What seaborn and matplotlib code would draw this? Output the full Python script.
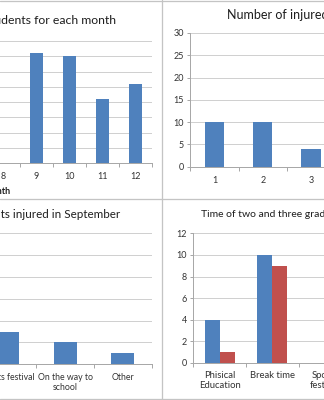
import matplotlib
matplotlib.use("Agg")
import matplotlib.pyplot as plt
from matplotlib.lines import Line2D
import numpy as np
import pandas as pd
import seaborn as sns

# ---- data ----
months = ["8", "9", "10", "11", "12"]
monthly_injured = [0, 36, 35, 21, 26]

grades = ["1", "2", "3"]
grade_injured = [10, 10, 4]

sept_causes = ["Sports festival", "On the way to\nschool", "Other"]
sept_injured = [3, 2, 1]

time_cats = ["Phisical\nEducation", "Break time", "Sports\nfestival"]
grade2_injured = [4, 10, 0]
grade3_injured = [1, 9, 0]
series_names = ["2nd grade", "3rd grade"]

# ---- style ----
sns.set_theme(style="white")
plt.rcParams["font.family"] = ["Lato", "DejaVu Sans"]

W, H = 324, 400
BLUE = "#4F81BD"
RED = "#C0504D"
GRID = "#d0d0d0"
AXIS = "#a8a8a8"
TITLE = "#1e1e1e"
TICK = "#333333"
PX = 0.72  # points per pixel at dpi 100

fig = plt.figure(figsize=(W / 100, H / 100), dpi=100)
fig.patch.set_facecolor("white")


def panel(x0, y0, x1, y1):
    return fig.add_axes([x0 / W, 1 - y1 / H, (x1 - x0) / W, (y1 - y0) / H])


def style(ax, n, ymax, step, show_y, xpad, xsize):
    ax.set_xlim(-0.5, n - 0.5)
    ax.set_ylim(0, ymax)
    ax.set_yticks(np.arange(0, ymax + 0.01, step))
    ax.yaxis.grid(True, color=GRID, lw=1.0 * PX)
    ax.xaxis.grid(False)
    ax.set_axisbelow(True)
    ax.set_facecolor("none")
    for s in ["top", "right"]:
        ax.spines[s].set_visible(False)
    ax.spines["bottom"].set_color(AXIS)
    ax.spines["bottom"].set_linewidth(1.0 * PX)
    if show_y:
        ax.spines["left"].set_color(AXIS)
        ax.spines["left"].set_linewidth(1.0 * PX)
        ax.tick_params(axis="y", which="major", length=3 * PX, width=PX,
                       color=AXIS, pad=3.5 * PX, labelsize=6.5, labelcolor=TICK,
                       left=True)
    else:
        ax.spines["left"].set_visible(False)
        ax.tick_params(axis="y", left=False, labelleft=False)
    ax.set_xticks(np.arange(-0.5, n), minor=True)
    ax.tick_params(axis="x", which="major", length=0, pad=xpad * PX,
                   labelsize=xsize, labelcolor=TICK)
    ax.tick_params(axis="x", which="minor", length=3.5 * PX, width=PX,
                   color=AXIS, bottom=True)
    ax.set_xlabel("")
    ax.set_ylabel("")


# ---- top left: injuries per month ----
ax1 = panel(151.7 - 5 * 33.0, 41.0, 151.7, 163.3)
sns.barplot(x=months, y=monthly_injured, color=BLUE, saturation=1,
            width=0.4, linewidth=0, ax=ax1)
style(ax1, len(months), 40, 5, False, 8.5, 6.5)
fig.text(10.5 / W, 1 - 194 / H, "Month", ha="right", va="baseline",
         fontsize=6.5, fontweight="bold", color=TITLE)
fig.text(116 / W, 1 - 24 / H, "Number of injured students for each month",
         ha="right", va="baseline", fontsize=8.8, color=TITLE)

# ---- top right: injuries per grade ----
ax2 = panel(190.3, 33.0, 190.3 + 3 * 48.3, 166.7)
sns.barplot(x=grades, y=grade_injured, color=BLUE, saturation=1,
            width=0.4, linewidth=0, ax=ax2)
style(ax2, len(grades), 30, 5, True, 9, 6.5)
fig.text(227 / W, 1 - 19 / H, "Number of injured students for each grade",
         ha="left", va="baseline", fontsize=9.0, color=TITLE)

# ---- bottom left: September causes ----
ax3 = panel(151.7 - 3 * 57.7, 233.3, 151.7, 364.3)
sns.barplot(x=sept_causes, y=sept_injured, color=BLUE, saturation=1,
            width=0.4, linewidth=0, ax=ax3)
style(ax3, len(sept_causes), 12, 2, False, 8.5, 6.3)
fig.text(120 / W, 1 - 218.3 / H, "Number of students injured in September",
         ha="right", va="baseline", fontsize=8.4, color=TITLE)

# ---- bottom right: 2nd and 3rd grade by time ----
df = pd.DataFrame({
    "time": time_cats * 2,
    "count": grade2_injured + grade3_injured,
    "grade": [series_names[0]] * len(time_cats) + [series_names[1]] * len(time_cats),
})
ax4 = panel(193.3, 233.3, 193.3 + 3 * 52.7, 363.0)
sns.barplot(data=df, x="time", y="count", hue="grade", palette=[BLUE, RED],
            saturation=1, width=0.571, linewidth=0, legend=False, ax=ax4)
style(ax4, len(time_cats), 12, 2, True, 7.5, 6.8)
fig.text(201.3 / W, 1 - 217.3 / H, "Time of two and three grade students injured",
         ha="left", va="baseline", fontsize=7.5, color=TITLE)

# ---- chart frames ----
BORDER = "#c4c4c4"
for (xs, ys) in [((161.5, 161.5), (0, 400)),
                 ((0, 324), (199.2, 199.2)),
                 ((0, 324), (0.8, 0.8)),
                 ((0, 324), (399.2, 399.2))]:
    fig.add_artist(Line2D([x / W for x in xs], [1 - y / H for y in ys],
                          color=BORDER, lw=1.3 * PX))

fig.savefig("out.png", dpi=100)
